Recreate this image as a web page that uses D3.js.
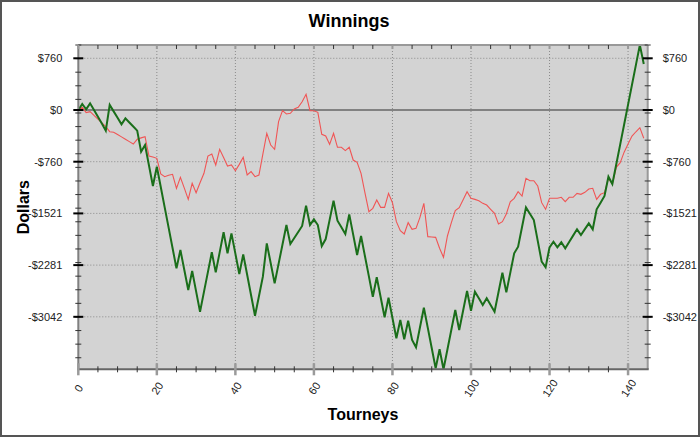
<!DOCTYPE html>
<html><head><meta charset="utf-8">
<script src="https://cdn.jsdelivr.net/npm/d3@7"></script>
<style>body{margin:0;background:#fff}svg{display:block}text{font-family:"Liberation Sans",Arial,sans-serif}</style>
</head><body><svg id="c" width="700" height="437"></svg>
<script>
const title = "Winnings";
const xTitle = "Tourneys";
const yTitle = "Dollars";
const xTicks = [0, 20, 40, 60, 80, 100, 120, 140];
const xMinorStep = 5;
const yTicks = [760.5, 0, -760.5, -1521, -2281.5, -3042];
const yTickLabels = ["$760", "$0", "-$760", "-$1521", "-$2281", "-$3042"];
const yMinorStep = 200;
const xMax = 145;
const green = [0,88,10,98,0,-100,-200,-304,74,-20,-115,-211,-123,-183,-243,-304,-613,-515,-817,-1118,
-834,-1133,-1432,-1731,-2030,-2329,-2059,-2354,-2648,-2368,-2668,-2967,-2676,-2384,-2093,-2388,-2094,-1799,-2108,-1814,
-2113,-2413,-2123,-2424,-2725,-3026,-2739,-2452,-1961,-2255,-2550,-2264,-1978,-1692,-1971,-1883,-1794,-1706,-1407,-1692,
-1608,-1692,-2001,-1898,-1616,-1334,-1628,-1726,-1824,-1535,-1834,-2133,-1853,-2151,-2448,-2746,-2461,-2755,-3049,-2761,
-3060,-3358,-3089,-3373,-3099,-3383,-3491,-3200,-2908,-3205,-3500,-3800,-3520,-3814,-3523,-3232,-2942,-3236,-2950,-2663,
-2952,-2672,-2770,-2868,-2770,-2868,-2967,-2680,-2393,-2682,-2395,-2108,-2010,-1721,-1432,-1525,-1618,-1925,-2231,-2314,
-2020,-1937,-2020,-1946,-2034,-1941,-1848,-1755,-1839,-1753,-1667,-1755,-1461,-1363,-1265,-981,-1089,-797,-505,-213,
79,371,663,956,677];
const red = [0,39,-39,-25,-80,-135,-190,-245,-319,-328,-360,-395,-430,-465,-500,-431,-410,-392,-677,-690,
-711,-941,-981,-960,-946,-1152,-990,-1150,-1314,-1078,-1216,-1070,-931,-677,-647,-809,-578,-700,-824,-809,
-893,-800,-696,-956,-907,-981,-956,-650,-343,-515,-578,-172,-10,-59,-49,15,39,122,230,-10,
-10,-34,-358,-383,-505,-343,-549,-549,-598,-549,-736,-770,-931,-1220,-1496,-1446,-1324,-1432,-1432,-1226,
-1363,-1643,-1775,-1824,-1657,-1755,-1741,-1579,-1373,-1863,-1868,-1873,-2034,-2167,-1853,-1657,-1481,-1437,-1320,-1202,
-1299,-1315,-1334,-1373,-1398,-1460,-1520,-1677,-1643,-1530,-1349,-1299,-1202,-1265,-1005,-1040,-1040,-1118,-1363,-1461,
-1299,-1299,-1299,-1284,-1349,-1284,-1284,-1226,-1240,-1211,-1162,-1152,-1314,-1240,-1216,-1005,-1089,-843,-775,-620,
-500,-383,-320,-260,-416];

const svg = d3.select("#c");
const L = 78.3, R = 647.7, T = 45, B = 369.3;
const yExt = d3.extent(green.concat(red));
const x = d3.scaleLinear().domain([0, xMax]).range([L, R]);
const y = d3.scaleLinear().domain(yExt).range([B, T]);

svg.append("rect").attr("x",1).attr("y",1).attr("width",698).attr("height",435)
  .attr("fill","#fff").attr("stroke","#555").attr("stroke-width",2);
svg.append("rect").attr("x",L).attr("y",T).attr("width",R-L).attr("height",B-T).attr("fill","#d3d3d3");

const defs = svg.append("defs");
defs.append("clipPath").attr("id","clip").append("rect").attr("x",L).attr("y",T).attr("width",R-L).attr("height",B-T);

// gridlines
svg.append("g").selectAll("line").data(yTicks.filter(d=>d!==0)).join("line")
  .attr("x1",L).attr("x2",R).attr("y1",d=>y(d)).attr("y2",d=>y(d))
  .attr("stroke","#8a8a8a").attr("stroke-width",1).attr("stroke-dasharray","1,2");
svg.append("g").selectAll("line").data(xTicks.filter(d=>d!==0)).join("line")
  .attr("y1",T).attr("y2",B).attr("x1",d=>x(d)).attr("x2",d=>x(d))
  .attr("stroke","#8a8a8a").attr("stroke-width",1).attr("stroke-dasharray","1,2");
svg.append("line").attr("x1",L).attr("x2",R).attr("y1",y(0)).attr("y2",y(0))
  .attr("stroke","#666").attr("stroke-width",1.6);

// series
const line = d3.line().x((d,i)=>x(i)).y(d=>y(d));
const gS = svg.append("g").attr("clip-path","url(#clip)");
gS.append("path").datum(red).attr("d",line).attr("fill","none").attr("stroke","#f05555").attr("stroke-width",1.1);
gS.append("path").datum(green).attr("d",line).attr("fill","none").attr("stroke","#1a6e1a").attr("stroke-width",2);

// frame
svg.append("line").attr("x1",L).attr("x2",R).attr("y1",T).attr("y2",T).attr("stroke","#999").attr("stroke-width",2);
svg.append("line").attr("x1",R).attr("x2",R).attr("y1",T).attr("y2",B).attr("stroke","#999").attr("stroke-width",2);
svg.append("line").attr("x1",L).attr("x2",L).attr("y1",T).attr("y2",B+1).attr("stroke","#808080").attr("stroke-width",2);
svg.append("line").attr("x1",L-1).attr("x2",R+1).attr("y1",B).attr("y2",B).attr("stroke","#666").attr("stroke-width",2);

// y minor ticks (both sides)
const yMinor = d3.range(yExt[1], yExt[0], -yMinorStep);
[L, R].forEach(px => {
  svg.append("g").selectAll("line").data(yMinor).join("line")
    .attr("x1",px-3).attr("x2",px+3).attr("y1",d=>y(d)).attr("y2",d=>y(d))
    .attr("stroke","#333").attr("stroke-width",1);
  svg.append("g").selectAll("line").data(yTicks).join("line")
    .attr("x1",px-5).attr("x2",px+5).attr("y1",d=>y(d)).attr("y2",d=>y(d))
    .attr("stroke","#000").attr("stroke-width",2);
});
// x minor/major ticks
const xMinor = d3.range(0, xMax, xMinorStep).filter(d=>d%20!==0);
svg.append("g").selectAll("line").data(xMinor).join("line")
  .attr("x1",d=>x(d)).attr("x2",d=>x(d)).attr("y1",B-3).attr("y2",B+3).attr("stroke","#333").attr("stroke-width",1);
svg.append("g").selectAll("line").data(xMinor).join("line")
  .attr("x1",d=>x(d)).attr("x2",d=>x(d)).attr("y1",T).attr("y2",T+4).attr("stroke","#333").attr("stroke-width",1);
svg.append("g").selectAll("line").data(xTicks).join("line")
  .attr("x1",d=>x(d)).attr("x2",d=>x(d)).attr("y1",B-6).attr("y2",B+6).attr("stroke","#9a9a9a").attr("stroke-width",2.5);
svg.append("g").selectAll("line").data(xTicks).join("line")
  .attr("x1",d=>x(d)).attr("x2",d=>x(d)).attr("y1",T).attr("y2",T+4).attr("stroke","#9a9a9a").attr("stroke-width",2);

// labels via axes
const fmt = (d)=>yTickLabels[yTicks.indexOf(d)];
const ax1 = svg.append("g").attr("transform",`translate(${L},0)`)
  .call(d3.axisLeft(y).tickValues(yTicks).tickFormat(fmt).tickSize(0).tickPadding(16));
const ax2 = svg.append("g").attr("transform",`translate(${R},0)`)
  .call(d3.axisRight(y).tickValues(yTicks).tickFormat(fmt).tickSize(0).tickPadding(15));
[ax1, ax2].forEach(a=>{ a.select(".domain").remove(); a.selectAll("text").attr("font-size",11).attr("fill","#222")
  .attr("font-family",'"Liberation Sans",Arial,sans-serif'); });
const ax3 = svg.append("g").attr("transform",`translate(0,${B})`)
  .call(d3.axisBottom(x).tickValues(xTicks).tickSize(0));
ax3.select(".domain").remove();
ax3.selectAll("text").attr("font-size",11).attr("fill","#222").attr("font-family",'"Liberation Sans",Arial,sans-serif')
  .attr("y",0).attr("dy","0.35em").attr("text-anchor","middle")
  .attr("transform","translate(0,19) rotate(-57)");

svg.append("text").attr("x",349).attr("y",27).attr("text-anchor","middle")
  .attr("font-size",18).attr("font-weight","bold").attr("fill","#000").text(title);
svg.append("text").attr("x",(L+R)/2).attr("y",420).attr("text-anchor","middle")
  .attr("font-size",16).attr("font-weight","bold").attr("fill","#000").text(xTitle);
svg.append("text").attr("transform",`translate(29,${(T+B)/2}) rotate(-90)`).attr("text-anchor","middle")
  .attr("font-size",16).attr("font-weight","bold").attr("fill","#000").text(yTitle);
</script></body></html>
